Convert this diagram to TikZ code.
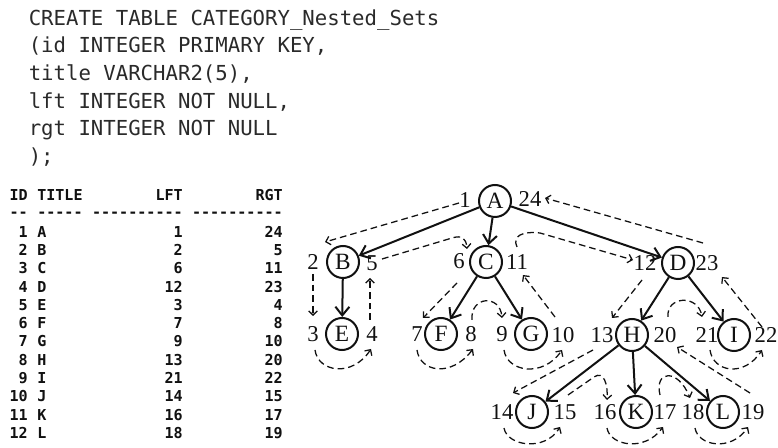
\documentclass[tikz,border=0pt]{standalone}
\usepackage{fontspec}
\setmainfont{Liberation Serif}
\newfontfamily\sqlfont{DejaVu Sans Mono}
\newfontfamily\tabfont{DejaVu Sans Mono}
\usetikzlibrary{arrows.meta}
\definecolor{sqlink}{HTML}{2A2A2A}
\definecolor{ink}{HTML}{111111}

\begin{document}
\begin{tikzpicture}[x=0.75pt,y=-0.75pt,
  vertex/.style={circle,draw=ink,line width=1.5pt,minimum size=24pt,inner sep=0pt,
    text=ink,font=\fontsize{17.5}{17.5}\selectfont},
  num/.style={inner sep=0pt,text=ink,font=\fontsize{17}{17}\selectfont},
  edge/.style={draw=ink,line width=1.5pt,-{Straight Barb[length=6.5pt,width=10.5pt]}},
  walk/.style={draw=ink,line width=0.95pt,dash pattern=on 5pt off 3pt,
    -{Straight Barb[length=3.2pt,width=6.5pt]}},
  sql/.style={anchor=base west,inner sep=0pt,text=sqlink,
    font=\sqlfont\fontsize{15.5}{15.5}\selectfont},
  cellr/.style={anchor=base east,inner sep=0pt,text=ink,
    font=\tabfont\bfseries\fontsize{11.3}{11.3}\selectfont},
  celll/.style={cellr,anchor=base west}]
\useasboundingbox (0,0) rectangle (778,448);
\fill[white] (0,0) rectangle (778,448);

% DDL statement
\node[sql] (s1) at (28.5,25.3)  {CREATE TABLE CATEGORY\_Nested\_Sets};
\node[sql] (s2) at (28.5,52.9)  {(id INTEGER PRIMARY KEY,};
\node[sql] (s3) at (28.5,80.6)  {title VARCHAR2(5),};
\node[sql] (s4) at (28.5,108.2) {lft INTEGER NOT NULL,};
\node[sql] (s5) at (28.5,135.9) {rgt INTEGER NOT NULL};
\node[sql] (s6) at (28.5,163.5) {);};

% query result
\node[cellr] (hid) at (28,200.5)  {ID};
\node[celll] (htl) at (37,200.5)  {TITLE};
\node[cellr] (hlf) at (183,200.5) {LFT};
\node[cellr] (hrg) at (283,200.5) {RGT};
\node[cellr] (uid) at (28,217.5)  {--};
\node[celll] (utl) at (37,217.5)  {-----};
\node[cellr] (ulf) at (183,217.5) {----------};
\node[cellr] (urg) at (283,217.5) {----------};
\foreach \i/\t/\l/\r in {1/A/1/24,2/B/2/5,3/C/6/11,4/D/12/23,5/E/3/4,6/F/7/8,
    7/G/9/10,8/H/13/20,9/I/21/22,10/J/14/15,11/K/16/17,12/L/18/19}{
  \node[cellr] (rid\i) at (28,{237.2+18.3*(\i-1)})  {\i};
  \node[celll] (rtl\i) at (37,{237.2+18.3*(\i-1)})  {\t};
  \node[cellr] (rlf\i) at (183,{237.2+18.3*(\i-1)}) {\l};
  \node[cellr] (rrg\i) at (283,{237.2+18.3*(\i-1)}) {\r};
}

% tree
\node[vertex] (a) at (495,201) {A};
\node[vertex] (b) at (343,262) {B};
\node[vertex] (c) at (486,262) {C};
\node[vertex] (d) at (678,263) {D};
\node[vertex] (e) at (342,334) {E};
\node[vertex] (f) at (441,334) {F};
\node[vertex] (g) at (531,334) {G};
\node[vertex] (h) at (632,335) {H};
\node[vertex] (i) at (734,335) {I};
\node[vertex] (j) at (532,412) {J};
\node[vertex] (k) at (636,412) {K};
\node[vertex] (l) at (723,412) {L};

\draw[edge] (a) -- (b);
\draw[edge] (a) -- (c);
\draw[edge] (a) -- (d);
\draw[edge] (b) -- (e);
\draw[edge] (c) -- (f);
\draw[edge] (c) -- (g);
\draw[edge] (d) -- (h);
\draw[edge] (d) -- (i);
\draw[edge] (h) -- (j);
\draw[edge] (h) -- (k);
\draw[edge] (h) -- (l);

% left / right numbers
\node[num] (n1)  at (465,200) {1};
\node[num] (n24) at (530,199) {24};
\node[num] (n2)  at (313,262) {2};
\node[num] (n5)  at (372,263) {5};
\node[num] (n6)  at (459,261) {6};
\node[num] (n11) at (517,262) {11};
\node[num] (n12) at (645,263) {12};
\node[num] (n23) at (707,263) {23};
\node[num] (n3)  at (313,334) {3};
\node[num] (n4)  at (372,334) {4};
\node[num] (n7)  at (417,334) {7};
\node[num] (n8)  at (471,334) {8};
\node[num] (n9)  at (502,334) {9};
\node[num] (n10) at (563,335) {10};
\node[num] (n13) at (602,335) {13};
\node[num] (n20) at (665,335) {20};
\node[num] (n21) at (707,335) {21};
\node[num] (n22) at (766,335) {22};
\node[num] (n14) at (502,412) {14};
\node[num] (n15) at (565,412) {15};
\node[num] (n16) at (605,412) {16};
\node[num] (n17) at (665,412) {17};
\node[num] (n18) at (693,412) {18};
\node[num] (n19) at (753,412) {19};

% depth-first walk that hands out the numbers
\draw[walk] ([shift={(-6,3)}]n1.center) -- ([shift={(12,-20)}]n2.center);
\draw[walk] ([shift={(0,12)}]n2.center) -- ([shift={(0,-18)}]n3.center);
\draw[walk] ([shift={(2,16)}]n3.center) .. controls ([shift={(5,38)}]n3.center)
  and ([shift={(-20,44)}]n4.center) .. ([shift={(-1,15)}]n4.center);
\draw[walk] ([shift={(-2,-14)}]n4.center) -- ([shift={(-2,15)}]n5.center);
\draw[walk] ([shift={(10,-4)}]n5.center) -- ([shift={(-7,-23)}]n6.center)
  .. controls ([shift={(3,-26)}]n6.center) and ([shift={(7,-23)}]n6.center)
  .. ([shift={(8,-12)}]n6.center);
\draw[walk] ([shift={(-2,22)}]n6.center) -- ([shift={(6,-16)}]n7.center);
\draw[walk] ([shift={(0,16)}]n7.center) .. controls ([shift={(3,38)}]n7.center)
  and ([shift={(-20,44)}]n8.center) .. ([shift={(2,15)}]n8.center);
\draw[walk] ([shift={(1,-14)}]n8.center) .. controls ([shift={(-1,-38)}]n8.center)
  and ([shift={(-2,-40)}]n9.center) .. ([shift={(0,-16)}]n9.center);
\draw[walk] ([shift={(2,16)}]n9.center) .. controls ([shift={(5,38)}]n9.center)
  and ([shift={(-20,43)}]n10.center) .. ([shift={(-1,15)}]n10.center);
\draw[walk] ([shift={(-8,-18)}]n10.center) -- ([shift={(6,13)}]n11.center);
\draw[walk] ([shift={(0,-15)}]n11.center) .. controls ([shift={(-5,-26)}]n11.center)
  and ([shift={(5,-31)}]n11.center) .. ([shift={(23,-29)}]n11.center)
  -- ([shift={(-12,-3)}]n12.center);
\draw[walk] ([shift={(-3,17)}]n12.center) -- ([shift={(10,-17)}]n13.center);
\draw[walk] ([shift={(-9,15)}]n13.center) -- ([shift={(11,-19)}]n14.center);
\draw[walk] ([shift={(2,16)}]n14.center) .. controls ([shift={(5,34)}]n14.center)
  and ([shift={(-20,40)}]n15.center) .. ([shift={(-5,15)}]n15.center);
\draw[walk] ([shift={(3,-17)}]n15.center) -- ([shift={(-11,-35)}]n16.center)
  .. controls ([shift={(-1,-42)}]n16.center) and ([shift={(3,-27)}]n16.center)
  .. ([shift={(2,-12)}]n16.center);
\draw[walk] ([shift={(2,16)}]n16.center) .. controls ([shift={(5,34)}]n16.center)
  and ([shift={(-20,40)}]n17.center) .. ([shift={(-2,15)}]n17.center);
\draw[walk] ([shift={(-5,-17)}]n17.center) .. controls ([shift={(-11,-42)}]n17.center)
  and ([shift={(-15,-44)}]n18.center) .. ([shift={(-3,-14)}]n18.center);
\draw[walk] ([shift={(2,16)}]n18.center) .. controls ([shift={(5,34)}]n18.center)
  and ([shift={(-22,40)}]n19.center) .. ([shift={(-5,15)}]n19.center);
\draw[walk] ([shift={(-3,-19)}]n19.center) -- ([shift={(12,12)}]n20.center);
\draw[walk] ([shift={(3,-18)}]n20.center) .. controls ([shift={(1,-39)}]n20.center)
  and ([shift={(-9,-41)}]n21.center) .. ([shift={(-5,-18)}]n21.center);
\draw[walk] ([shift={(3,15)}]n21.center) .. controls ([shift={(6,37)}]n21.center)
  and ([shift={(-22,43)}]n22.center) .. ([shift={(-4,15)}]n22.center);
\draw[walk] ([shift={(-4,-8)}]n22.center) -- ([shift={(15,14)}]n23.center);
\draw[walk] ([shift={(-4,-20)}]n23.center) -- ([shift={(15,-1)}]n24.center);
\end{tikzpicture}
\end{document}
